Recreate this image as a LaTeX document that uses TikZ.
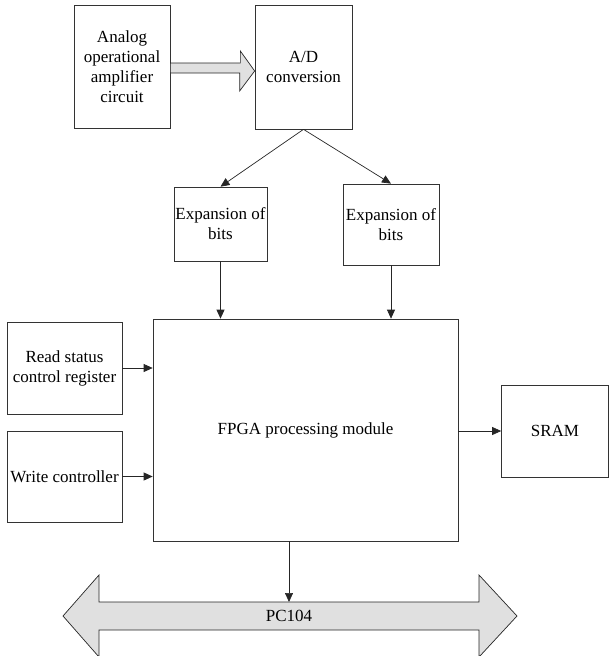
\documentclass[tikz,border=0pt]{standalone}
\usepackage{fontspec}
\setmainfont{Liberation Serif}
\usetikzlibrary{arrows.meta,calc}

\begin{document}
\begin{tikzpicture}[x=1pt, y=-1pt,
        font=\fontsize{17}{20}\selectfont,
        block/.style={rectangle, draw=black!80, line width=0.7pt, align=center, inner sep=1pt},
        line/.style={draw=black!85, line width=0.7pt, -{Triangle[length=9pt,width=8pt]}},
        hollow/.style={draw=black!85, line width=0.7pt, fill=black!12, line join=miter}]

    \useasboundingbox (0,0) rectangle (609,656);

    \node [block, minimum width=96pt, minimum height=123pt] (analog) at (122,66.5) {Analog\\operational\\amplifier\\circuit};
    \node [block, minimum width=97pt, minimum height=124pt] (adc) at (303.5,67) {A/D\\conversion};
    \node [block, minimum width=93pt, minimum height=74pt] (expA) at (220.5,224) {Expansion of\\bits};
    \node [block, minimum width=96pt, minimum height=81pt] (expB) at (391,224.5) {Expansion of\\bits};
    \node [block, minimum width=305pt, minimum height=222pt] (fpga) at (305.5,430) {FPGA processing module};
    \node [block, minimum width=115pt, minimum height=92pt] (read) at (64.5,368) {Read status\\control register};
    \node [block, minimum width=115pt, minimum height=91pt] (write) at (64.5,476.5) {Write controller};
    \node [block, minimum width=107pt, minimum height=92pt] (sram) at (555,431) {SRAM};

    % wide arrow from the amplifier into the converter
    \draw [hollow] ($(analog.east)+(0,-3.5)$) -- ++(70,0) -- ++(0,-12) -- ($(adc.west)+(0,4)$)
        -- ++(-15,20) -- ++(0,-18) -- ($(analog.east)+(0,6.5)$) -- cycle;

    % PC104 bus
    \draw [hollow] (63,616) -- (99,575) -- (99,602) -- (479,602) -- (479,575) -- (517,616)
        -- (479,657) -- (479,630) -- (99,630) -- (99,657) -- cycle;
    \node (bus) at (289,616) {PC104};
    \coordinate (busTop) at (289,602);

    \path [line] (adc.south) -- (expA.north);
    \path [line] (adc.south) -- (expB.north);
    \path [line] (expA.south) -- (expA.south |- fpga.north);
    \path [line] (expB.south) -- (expB.south |- fpga.north);
    \path [line] (read.east) -- (read.east -| fpga.west);
    \path [line] (write.east) -- (write.east -| fpga.west);
    \path [line] (sram.west -| fpga.east) -- (sram.west);
    \path [line] (fpga.south -| busTop) -- (busTop);
\end{tikzpicture}
\end{document}
